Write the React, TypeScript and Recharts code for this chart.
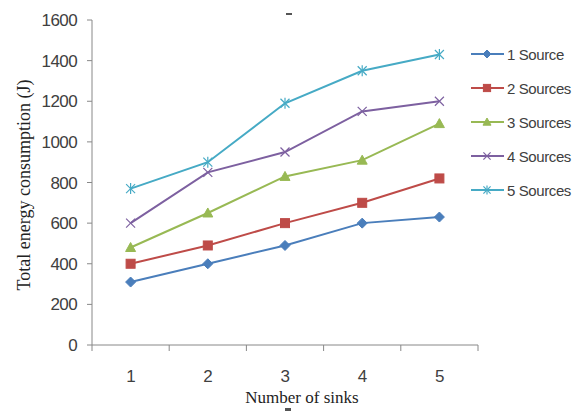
import { LineChart, Line, XAxis, YAxis } from 'recharts';

const sinks = [1, 2, 3, 4, 5];
const oneSource = [310, 400, 490, 600, 630];
const twoSources = [400, 490, 600, 700, 820];
const threeSources = [480, 650, 830, 910, 1090];
const fourSources = [600, 850, 950, 1150, 1200];
const fiveSources = [770, 900, 1190, 1350, 1430];
const yTicks = [0, 200, 400, 600, 800, 1000, 1200, 1400, 1600];
const xTicks = [0.5, 1, 1.5, 2, 2.5, 3, 3.5, 4, 4.5, 5, 5.5];

const sansFont = '"Liberation Sans", Arial, sans-serif';
const serifFont = '"Liberation Serif", "Times New Roman", serif';

const series = [
  { key: 's1', name: '1 Source', color: '#4a7ebb', marker: 'diamond', values: oneSource },
  { key: 's2', name: '2 Sources', color: '#be4b48', marker: 'square', values: twoSources },
  { key: 's3', name: '3 Sources', color: '#98b954', marker: 'triangle', values: threeSources },
  { key: 's4', name: '4 Sources', color: '#7d60a0', marker: 'cross', values: fourSources },
  { key: 's5', name: '5 Sources', color: '#46aac5', marker: 'star', values: fiveSources },
];

const data = sinks.map((s, i) => {
  const row: Record<string, number> = { sink: s };
  series.forEach(ser => { row[ser.key] = ser.values[i]; });
  return row;
});

const Marker = ({ cx, cy, type, color, r = 5 }: { cx: number; cy: number; type: string; color: string; r?: number }) => {
  if (cx == null || cy == null) return null;
  if (type === 'diamond') {
    return <polygon points={`${cx},${cy - r} ${cx + r},${cy} ${cx},${cy + r} ${cx - r},${cy}`} fill={color} stroke={color} />;
  }
  if (type === 'square') {
    const h = r * 0.9;
    return <rect x={cx - h} y={cy - h} width={h * 2} height={h * 2} fill={color} stroke={color} />;
  }
  if (type === 'triangle') {
    return <polygon points={`${cx},${cy - r} ${cx + r},${cy + r * 0.8} ${cx - r},${cy + r * 0.8}`} fill={color} stroke={color} />;
  }
  const h = r * 0.9;
  if (type === 'cross') {
    return (
      <g stroke={color} strokeWidth={1.2}>
        <line x1={cx - h} y1={cy - h} x2={cx + h} y2={cy + h} />
        <line x1={cx - h} y1={cy + h} x2={cx + h} y2={cy - h} />
      </g>
    );
  }
  return (
    <g stroke={color} strokeWidth={1.2}>
      <line x1={cx - h} y1={cy - h} x2={cx + h} y2={cy + h} />
      <line x1={cx - h} y1={cy + h} x2={cx + h} y2={cy - h} />
      <line x1={cx} y1={cy - h - 1} x2={cx} y2={cy + h + 1} />
    </g>
  );
};

const XTick = (props: any) => {
  const { x, y, payload } = props;
  const v = payload.value;
  if (Number.isInteger(v)) {
    return (
      <text x={x} y={y + 29} textAnchor="middle" fill="#404040" fontSize={17} letterSpacing={-0.6} fontFamily={sansFont}>
        {v}
      </text>
    );
  }
  return <line x1={x} y1={y - 8} x2={x} y2={y - 2} stroke="#888" />;
};

const YLabel = (props: any) => {
  const { viewBox } = props;
  const cx = viewBox.x + 24;
  const cy = 185;
  return (
    <text x={cx} y={cy} transform={`rotate(-90, ${cx}, ${cy})`} textAnchor="middle" dominantBaseline="central" fill="#222" fontSize={18} fontFamily={serifFont}>
      Total energy consumption (J)
    </text>
  );
};

const XLabel = (props: any) => {
  const { viewBox } = props;
  const cx = viewBox.x + viewBox.width / 2 + 17;
  return (
    <text x={cx} y={viewBox.y + viewBox.height + 28} textAnchor="middle" fill="#222" fontSize={17} fontFamily={serifFont}>
      Number of sinks
    </text>
  );
};

const LegendBox = () => (
  <div style={{ position: 'absolute', left: 471, top: 37, fontFamily: sansFont, fontSize: 15, letterSpacing: -0.4, color: '#404040', whiteSpace: 'nowrap' }}>
    {series.map(s => (
      <div key={s.key} style={{ display: 'flex', alignItems: 'center', height: 34 }}>
        <svg width={33} height={14}>
          <line x1={0} y1={7} x2={33} y2={7} stroke={s.color} strokeWidth={2} />
          <Marker cx={16} cy={7} type={s.marker} color={s.color} r={4} />
        </svg>
        <span style={{ marginLeft: 3 }}>{s.name}</span>
      </div>
    ))}
  </div>
);

export default function App() {
  return (
    <div style={{ position: 'fixed', left: 0, top: 0, width: 575, height: 413, background: '#fff' }}>
      <LineChart width={575} height={413} data={data} margin={{ top: 20, right: 97, left: 0, bottom: 38 }}>
        <XAxis
          dataKey="sink"
          type="number"
          domain={[0.5, 5.5]}
          ticks={xTicks}
          interval={0}
          tickLine={false}
          tick={<XTick />}
          stroke="#888"
          height={30}
          label={<XLabel />}
        />
        <YAxis
          type="number"
          domain={[0, 1600]}
          ticks={yTicks}
          interval={0}
          width={92}
          stroke="#888"
          tickSize={5}
          tickMargin={10}
          tick={{ fill: '#404040', fontSize: 17, letterSpacing: -0.6, fontFamily: sansFont }}
          label={<YLabel />}
        />
        {series.map(s => (
          <Line
            key={s.key}
            dataKey={s.key}
            name={s.name}
            stroke={s.color}
            strokeWidth={2}
            isAnimationActive={false}
            dot={(p: any) => <Marker key={`${s.key}-${p.index}`} cx={p.cx} cy={p.cy} type={s.marker} color={s.color} />}
          />
        ))}
      </LineChart>
      <LegendBox />
      <div style={{ position: 'absolute', left: 286, top: 13, width: 6, height: 2, background: '#555' }} />
      <div style={{ position: 'absolute', left: 285, top: 408, width: 6, height: 3, background: '#555' }} />
    </div>
  );
}
